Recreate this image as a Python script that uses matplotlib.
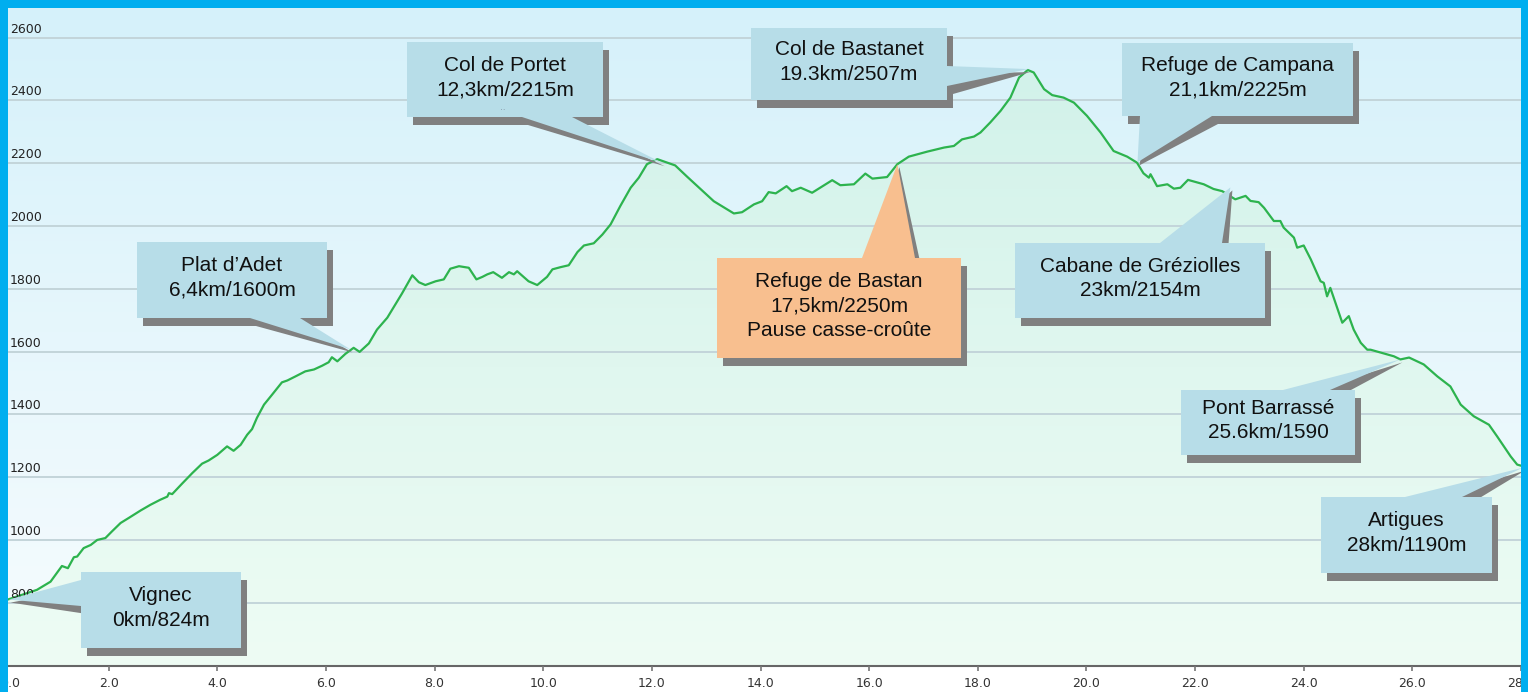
import numpy as np
import matplotlib.pyplot as plt
from matplotlib.patches import Rectangle, Polygon
from matplotlib.colors import LinearSegmentedColormap

# elevation profile (km, m)
km = [0.0, 0.16, 0.68, 0.93, 1.14, 1.25, 1.36, 1.42, 1.54, 1.67, 1.79, 1.94, 2.06, 2.22, 2.37,
      2.59, 2.77, 2.95, 3.08, 3.11, 3.17, 3.35, 3.54, 3.72, 3.84, 4.00, 4.18, 4.30, 4.43, 4.55,
      4.64, 4.73, 4.86, 5.01, 5.19, 5.29, 5.44, 5.62, 5.78, 5.93, 6.05, 6.11, 6.21, 6.36, 6.51,
      6.62, 6.79, 6.94, 7.13, 7.40, 7.59, 7.71, 7.83, 8.02, 8.17, 8.29, 8.45, 8.63, 8.77, 8.88,
      8.97, 9.08, 9.24, 9.37, 9.46, 9.52, 9.73, 9.89, 10.07, 10.17, 10.32, 10.47, 10.63, 10.75,
      10.93, 11.09, 11.24, 11.42, 11.61, 11.76, 11.91, 12.10, 12.43, 12.65, 12.90, 13.14, 13.51,
      13.66, 13.88, 14.03, 14.15, 14.28, 14.48, 14.58, 14.74, 14.95, 15.32, 15.47, 15.72, 15.93,
      16.06, 16.33, 16.52, 16.73, 17.07, 17.19, 17.38, 17.56, 17.71, 17.93, 18.05, 18.23, 18.42,
      18.60, 18.76, 18.92, 19.03, 19.22, 19.37, 19.58, 19.77, 20.01, 20.26, 20.50, 20.75, 20.93,
      21.05, 21.15, 21.18, 21.30, 21.49, 21.61, 21.73, 21.87, 22.16, 22.34, 22.50, 22.74, 22.93,
      23.02, 23.17, 23.27, 23.45, 23.57, 23.63, 23.82, 23.88, 24.00, 24.13, 24.31, 24.37, 24.43,
      24.49, 24.71, 24.83, 24.92, 25.05, 25.17, 25.23, 25.66, 25.78, 25.94, 26.21, 26.46, 26.70,
      26.89, 27.13, 27.41, 27.56, 27.81, 27.93, 28.05]
elev = [806, 811, 841, 867, 917, 910, 945, 947, 974, 984, 1000, 1006, 1027, 1054, 1070,
        1094, 1112, 1128, 1138, 1149, 1146, 1179, 1213, 1243, 1253, 1271, 1298, 1284, 1303, 1335,
        1353, 1389, 1431, 1463, 1502, 1508, 1521, 1537, 1543, 1555, 1566, 1582, 1569, 1593, 1612,
        1599, 1626, 1670, 1708, 1785, 1843, 1821, 1812, 1824, 1830, 1864, 1872, 1867, 1830, 1838,
        1846, 1853, 1835, 1853, 1846, 1856, 1824, 1812, 1838, 1862, 1869, 1875, 1917, 1938,
        1945, 1973, 2005, 2064, 2122, 2154, 2197, 2213, 2193, 2157, 2117, 2079, 2040,
        2044, 2069, 2079, 2108, 2104, 2127, 2111, 2122, 2106, 2146, 2130, 2133, 2167,
        2151, 2156, 2197, 2221, 2237, 2242, 2250, 2255, 2276, 2285, 2298, 2330, 2367,
        2409, 2473, 2497, 2489, 2436, 2417, 2409, 2393, 2351, 2298, 2239, 2221, 2202,
        2168, 2154, 2165, 2127, 2133, 2119, 2122, 2147, 2133, 2118, 2111, 2085, 2096,
        2080, 2076, 2058, 2016, 2016, 1995, 1963, 1931, 1938, 1894, 1824, 1819, 1776,
        1803, 1692, 1713, 1670, 1628, 1606, 1606, 1585, 1575, 1581, 1559, 1521, 1489,
        1431, 1394, 1367, 1330, 1266, 1240, 1234]

y_ticks = [800, 1000, 1200, 1400, 1600, 1800, 2000, 2200, 2400, 2600]
x_ticks = [0, 2, 4, 6, 8, 10, 12, 14, 16, 18, 20, 22, 24, 26, 28]

# callouts: text and where the pointer touches the profile
labels = ["Vignec\n0km/824m", "Plat d\u2019Adet\n6,4km/1600m", "Col de Portet\n12,3km/2215m",
          "Col de Bastanet\n19.3km/2507m", "Refuge de Campana\n21,1km/2225m",
          "Refuge de Bastan\n17,5km/2250m\nPause casse-cro\u00fbte",
          "Cabane de Gr\u00e9ziolles\n23km/2154m", "Pont Barrass\u00e9\n25.6km/1590",
          "Artigues\n28km/1190m"]
tip_km = [0.16, 6.45, 12.2, 18.93, 20.94, 16.52, 22.65, 25.78, 28.03]
tip_elev = [810, 1607, 2200, 2500, 2203, 2197, 2123, 1575, 1230]

# layout (pixels): box x0, y0, x1, y1 and two base points of the pointer
boxes = [(81, 572, 241, 648), (137, 242, 327, 318), (407, 42, 603, 117),
         (751, 28, 947, 100), (1122, 43, 1353, 116), (717, 258, 961, 358),
         (1015, 243, 1265, 318), (1181, 390, 1355, 455), (1321, 497, 1492, 573)]
bases = [((81, 580), (81, 606)), ((250, 318), (300, 318)), ((522, 117), (572, 117)),
         ((947, 66), (947, 86)), ((1140, 116), (1212, 116)), ((862, 258), (915, 258)),
         ((1160, 243), (1222, 243)), ((1283, 390), (1330, 390)), ((1405, 497), (1462, 497))]
box_colors = ['#B7DDE8'] * 5 + ['#F8BF8F'] + ['#B7DDE8'] * 3

W, H = 1528, 692
fig = plt.figure(figsize=(W / 100, H / 100), dpi=100, facecolor='white')
ax = fig.add_axes([0, (H - 665.5) / H, 1521 / W, 665.5 / H])
ax.set_xlim(0, 28)
ax.set_ylim(600, 2720)

grad = np.linspace(0, 1, 256).reshape(-1, 1)
bg = LinearSegmentedColormap.from_list('bg', ['#F7FCFE', '#D5F1FA'])
ax.imshow(grad, extent=[0, 28, 600, 2720], aspect='auto', cmap=bg, origin='lower', zorder=0)

area = ax.fill_between(km, elev, 600, color='none', lw=0)
fillmap = LinearSegmentedColormap.from_list('fill', ['#EEFCF4', '#D2F2EA'])
img = ax.imshow(grad, extent=[0, 28, 600, max(elev)], aspect='auto', cmap=fillmap,
                origin='lower', zorder=1)
img.set_clip_path(area.get_paths()[0], ax.transData)

ax.plot(km, elev, color='#2DB34E', lw=1.6, zorder=3)

ax.set_yticks(y_ticks)
ax.set_axisbelow(False)
ax.yaxis.grid(True, color='#C3D5DA', lw=1.4)
ax.tick_params(axis='y', left=False, labelleft=False)
for v in y_ticks:
    ax.annotate(str(v), xy=(0, v), xycoords=('axes fraction', 'data'), xytext=(10, 2),
                textcoords='offset pixels', ha='left', va='bottom', fontsize=9,
                color='#222222', family='DejaVu Sans', zorder=4)

ax.set_xticks(x_ticks)
ax.set_xticklabels([f"{v:.1f}" for v in x_ticks])
ax.tick_params(axis='x', length=3.6, width=1.2, color='#777777', labelsize=9,
               labelcolor='#333333', pad=5)
ax.get_xticklabels()[0].set_horizontalalignment('left')
for s in ['top', 'left', 'right']:
    ax.spines[s].set_visible(False)
ax.spines['bottom'].set_color('#666666')
ax.spines['bottom'].set_linewidth(1.5)

# overlay in pixel coordinates for the callouts and frame
ov = fig.add_axes([0, 0, 1, 1], zorder=5)
ov.set_xlim(0, W)
ov.set_ylim(H, 0)
ov.axis('off')
ov.patch.set_alpha(0)

sx, sy = 6, 8
shadow = '#808080'
for text, tk, te, box, base, col in zip(labels, tip_km, tip_elev, boxes, bases, box_colors):
    px, py = ax.transData.transform((tk, te))
    tip = (px, H - py)
    x0, y0, x1, y1 = box
    ov.add_patch(Rectangle((x0 + sx, y0 + sy), x1 - x0, y1 - y0, color=shadow, lw=0))
    ov.add_patch(Polygon([(base[0][0] + sx, base[0][1] + sy), (base[1][0] + sx, base[1][1] + sy),
                          (tip[0] + 2, tip[1] + 3)], color=shadow, lw=0))
    ov.add_patch(Polygon([base[0], base[1], tip], color=col, lw=0))
    ov.add_patch(Rectangle((x0, y0), x1 - x0, y1 - y0, color=col, lw=0))
    ov.text((x0 + x1) / 2, (y0 + y1) / 2 - 2, text, ha='center', va='center', fontsize=15,
            family='Liberation Sans', color='#111111', linespacing=1.37)

ov.text(503, 108, '‥', ha='center', va='center', fontsize=6, color='#8090A0')

cyan = '#00AEEF'
ov.add_patch(Rectangle((0, 0), 8, H, color=cyan, lw=0))
ov.add_patch(Rectangle((0, 0), W, 8, color=cyan, lw=0))
ov.add_patch(Rectangle((1521, 0), W - 1521, H, color=cyan, lw=0))

fig.savefig('out.png', dpi=100, facecolor='white')
